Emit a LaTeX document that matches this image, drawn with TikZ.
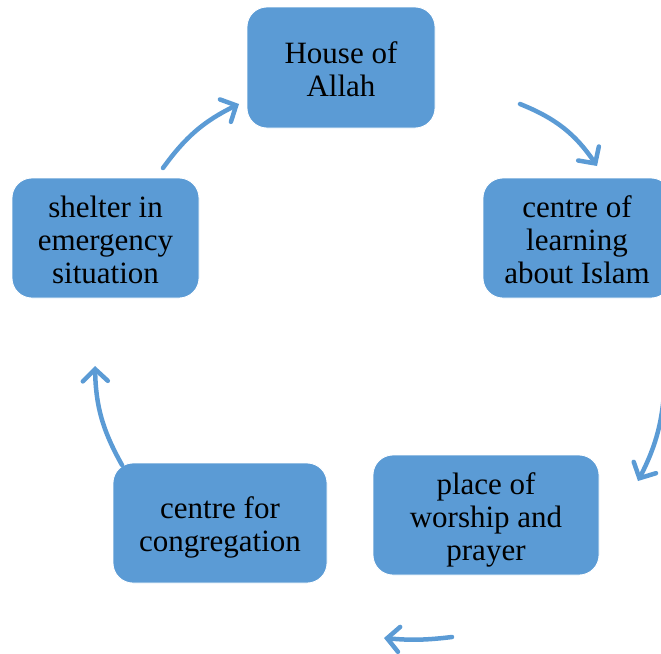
\documentclass[tikz,border=0pt]{standalone}
\usepackage{fontspec}
\setmainfont{Liberation Serif}
\usetikzlibrary{arrows.meta}
\definecolor{cycleblue}{HTML}{5B9BD5}
% centred lines of a stage label, drawn a little low without changing its size
\newcommand{\stagetext}[1]{\raisebox{-5.5pt}[\height][\depth]{\begin{tabular}{@{}c@{}}#1\end{tabular}}}
\begin{document}
\begin{tikzpicture}[x=1pt,y=-1pt,
  stage/.style={fill=cycleblue, draw=white, line width=0.8pt,
    rounded corners=20pt, align=center, inner sep=0pt,
    minimum height=120pt,
    font=\fontsize{31}{33}\selectfont, text=black},
  cyc/.style={draw=cycleblue, line width=4.5pt, line cap=round,
    -{Straight Barb[length=12pt,width=25pt,line cap=round]}}]
\useasboundingbox (0,0) rectangle (661,653);
\clip (0,0) rectangle (661,653);

% the five stages of the cycle
\node[stage, minimum width=188pt, minimum height=121pt] (house) at (341,67.5) {\stagetext{House of\\Allah}};
\node[stage, minimum width=188pt] (learn)   at (577,238)   {\stagetext{centre of\\learning\\about Islam}};
\node[stage, minimum width=226pt] (worship) at (486,515)   {\stagetext{place of\\worship and\\prayer}};
\node[stage, minimum width=214pt] (congr)   at (220,523)   {\stagetext{centre for\\congregation}};
\node[stage, minimum width=187pt] (shelter) at (105.5,238) {\stagetext{shelter in\\emergency\\situation}};

% free ends of the cycle arrows
\coordinate (a1s) at (520,104); \coordinate (a1e) at (597,166);
\coordinate (a2s) at (665,380); \coordinate (a2e) at (638,481);
\coordinate (a3s) at (452,637); \coordinate (a3e) at (384,638);
\coordinate (a4s) at (122,465); \coordinate (a4e) at (95,366);
\coordinate (a5s) at (163,168); \coordinate (a5e) at (239,104);

\draw[cyc] (a1s) to[bend left=17] (a1e);
\draw[cyc] (a2s) to[bend left=12] (a2e);
\draw[cyc] (a3s) to[bend left=6] (a3e);
\draw[cyc] (a4s) to[bend left=14] (a4e);
\draw[cyc] (a5s) to[bend left=14] (a5e);
\end{tikzpicture}
\end{document}
